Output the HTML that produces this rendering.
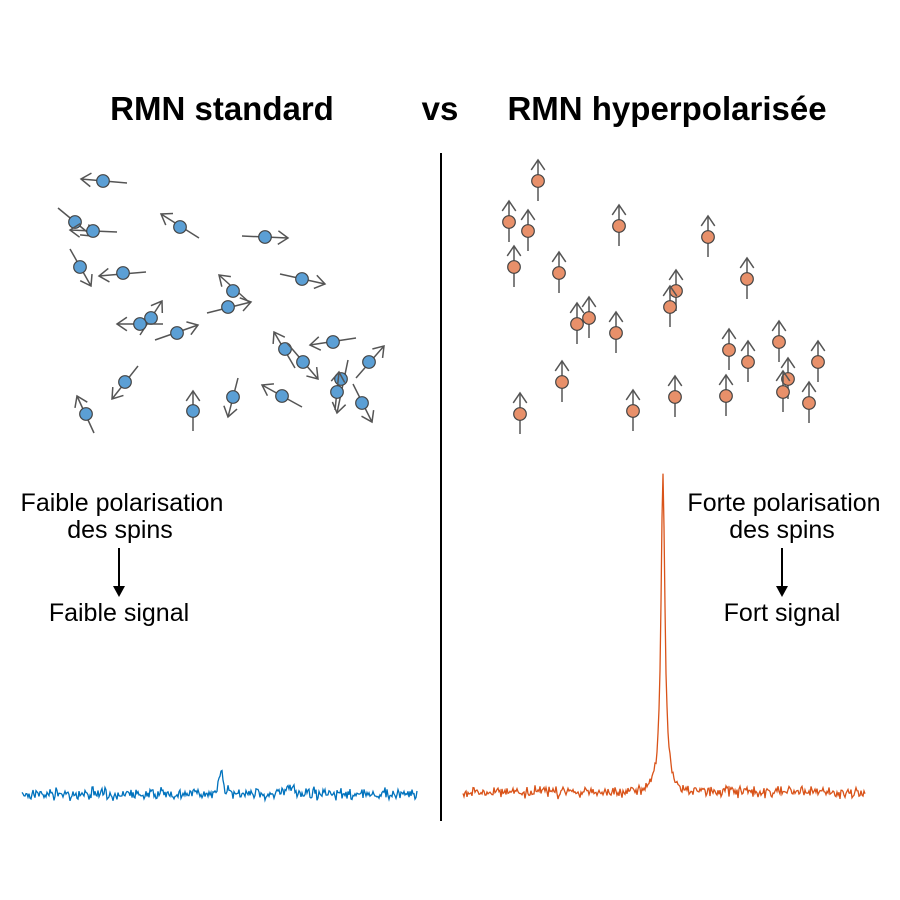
<!DOCTYPE html>
<html><head><meta charset="utf-8"><style>
body{margin:0;background:#fff;width:900px;height:900px;overflow:hidden}
svg{display:block}
text{font-family:"Liberation Sans",Arial,sans-serif}
</style></head><body>
<svg id="s" width="900" height="900" xmlns="http://www.w3.org/2000/svg">
<text x="222" y="120" font-size="33" font-weight="bold" text-anchor="middle">RMN standard</text>
<text x="440" y="120" font-size="33" font-weight="bold" text-anchor="middle">vs</text>
<text x="667" y="120" font-size="33" font-weight="bold" text-anchor="middle">RMN hyperpolarisée</text>
<line x1="441" y1="153" x2="441" y2="821" stroke="#000" stroke-width="2"/>
<g font-size="25" text-anchor="middle">
<text x="122" y="511">Faible polarisation</text>
<text x="120" y="538">des spins</text>
<text x="119" y="621">Faible signal</text>
<text x="784" y="511">Forte polarisation</text>
<text x="782" y="538">des spins</text>
<text x="782" y="621">Fort signal</text>
</g>
<line x1="119" y1="548" x2="119" y2="588" stroke="#000" stroke-width="2"/>
<polygon points="113,586 125,586 119,597" fill="#000"/>
<line x1="782" y1="548" x2="782" y2="588" stroke="#000" stroke-width="2"/>
<polygon points="776,586 788,586 782,597" fill="#000"/>
<g id="g"></g>
</svg>
<script>
var g=document.getElementById('g'),h='';
var L=[[103,181,81,179,127,183],[75,222,92,236,58,208],[93,231,70,230,117,232],[180,227,161,214,199,238],[265,237,288,238,242,236],[80,267,91,286,70,249],[123,273,99,276,146,272],[233,291,219,275,250,303],[228,307,251,302,207,313],[302,279,325,284,280,274],[151,318,162,301,140,335],[140,324,117,324,163,324],[177,333,198,325,155,340],[285,349,274,332,295,368],[303,362,318,379,287,343],[333,342,310,345,356,338],[369,362,384,346,356,378],[125,382,112,399,138,366],[86,414,77,396,94,433],[193,411,193,391,193,431],[233,397,228,417,238,378],[282,396,262,385,302,407],[341,379,337,413,348,360],[337,392,339,372,335,410],[362,403,372,422,353,384]];
function spin(c,fill){var cx=c[0],cy=c[1],hx=c[2],hy=c[3],tx=c[4],ty=c[5];
var dx=hx-tx,dy=hy-ty,l=Math.hypot(dx,dy);dx/=l;dy/=l;var a=12,w=0.6;
var p1=[hx-a*(dx*Math.cos(w)-dy*Math.sin(w)),hy-a*(dy*Math.cos(w)+dx*Math.sin(w))];
var p2=[hx-a*(dx*Math.cos(-w)-dy*Math.sin(-w)),hy-a*(dy*Math.cos(-w)+dx*Math.sin(-w))];
h+='<g stroke="#555" stroke-width="1.5" fill="none"><line x1="'+tx+'" y1="'+ty+'" x2="'+hx+'" y2="'+hy+'"/><polyline points="'+p1+' '+hx+','+hy+' '+p2+'"/></g><circle cx="'+cx+'" cy="'+cy+'" r="6.3" fill="'+fill+'" stroke="#444" stroke-width="1.2"/>';}
L.forEach(function(c){spin(c,'#5b9fd5')});
var R=[[538,181],[509,222],[528,231],[619,226],[708,237],[514,267],[559,273],[747,279],[676,291],[670,307],[577,324],[589,318],[616,333],[729,350],[748,362],[779,342],[818,362],[562,382],[788,379],[783,392],[809,403],[520,414],[633,411],[675,397],[726,396]];
R.forEach(function(c){spin([c[0],c[1],c[0],c[1]-21,c[0],c[1]+20],'#e8906a')});
var seed=7;function rnd(){seed=(seed*16807)%2147483647;return seed/2147483647;}
function spec(x0,x1,base,pk,ph,pw,bump,col){var pts=[];for(var x=x0;x<=x1;x+=1){var n=(rnd()+rnd()+rnd()-1.5)*5.5;var d=(x-pk)/pw;var y=base+n-ph/(1+d*d);if(bump){var e=(x-bump)/4;y-=6/(1+e*e);}pts.push(x+','+y.toFixed(1));}
h+='<polyline points="'+pts.join(' ')+'" fill="none" stroke="'+col+'" stroke-width="1.3"/>';}
spec(22,417,794,221,22,2.5,290,'#0072bd');
spec(463,865,792,663,316,2.4,0,'#d95319');
g.innerHTML=h;
</script>
</body></html>
